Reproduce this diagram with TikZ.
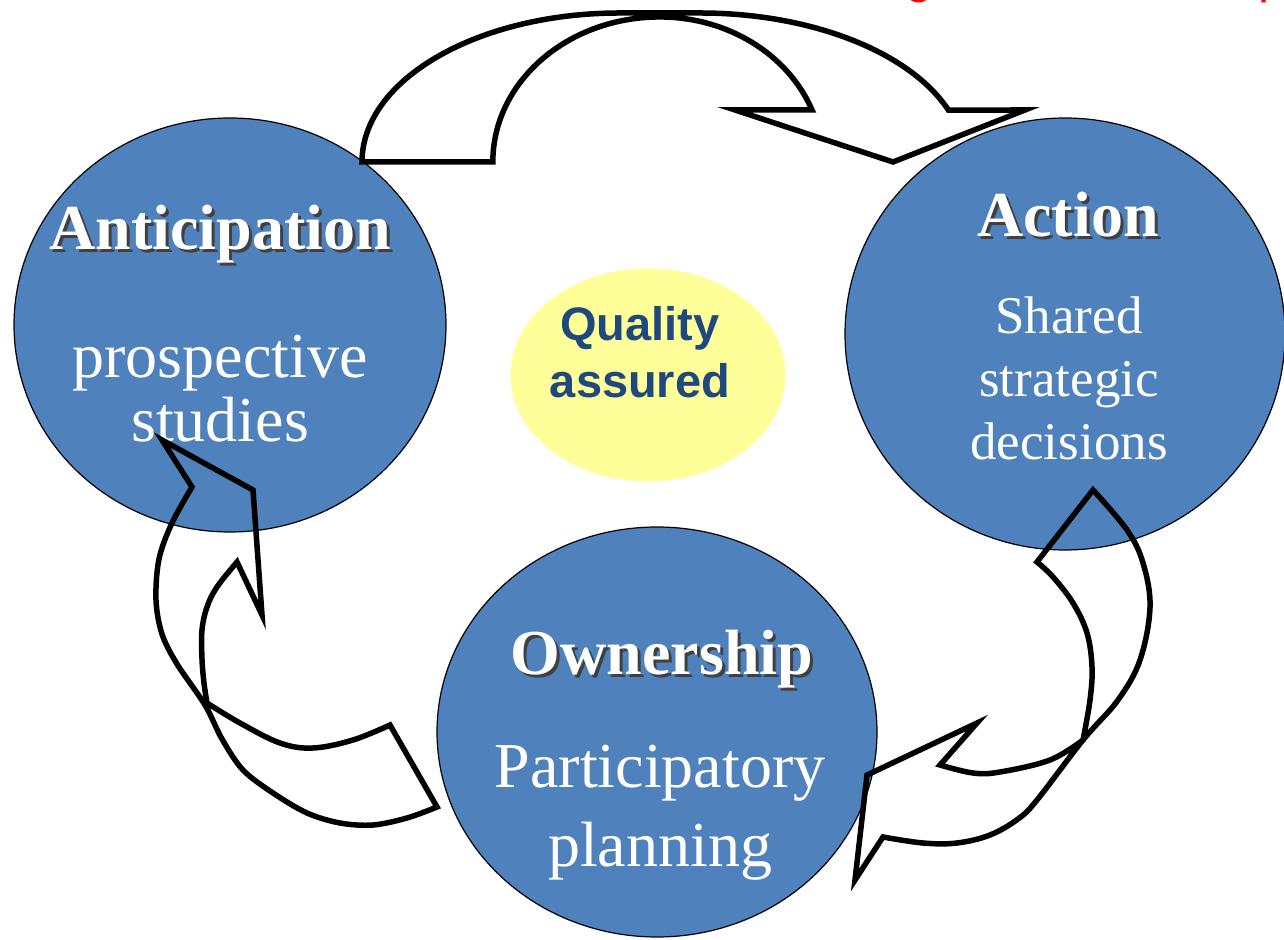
\documentclass[tikz,border=0pt]{standalone}
\usepackage{fontspec}
\setmainfont{Liberation Serif}
\newfontfamily\qualityfont{Liberation Sans}
\usetikzlibrary{shapes.geometric, positioning}

\definecolor{phaseblue}{RGB}{79,129,189}
\definecolor{qualityfill}{RGB}{255,255,153}
\definecolor{qualitytext}{RGB}{31,73,125}

% white heading with a dark drop shadow behind it
\newcommand{\shadowtext}[1]{\makebox[0pt][l]{\hspace{3pt}\raisebox{-3pt}{\color{black!75}#1}}#1}

\begin{document}
\begin{tikzpicture}[
    x=1pt, y=1pt,
    phase/.style={draw, ellipse, fill=phaseblue, line width=1.2pt, inner sep=0pt},
    title/.style={text=white, inner sep=0pt, anchor=base, font=\fontsize{64}{64}\selectfont\bfseries},
    body/.style={text=white, inner sep=0pt, anchor=base, align=center},
    bent/.style={draw, line width=5.5pt, line join=miter}
]
\useasboundingbox (0,0) rectangle (1284,939);

% the three phases and the centre
\node[phase, minimum width=432pt, minimum height=414pt] (Antic) at (230,614) {};
\node[phase, minimum width=440pt, minimum height=432pt] (Action) at (1065,605) {};
\node[phase, minimum width=440pt, minimum height=410pt] (Owner) at (657,207) {};
\node[ellipse, fill=qualityfill, minimum width=275pt, minimum height=213pt] (Quality) at (648,564) {};

% (body nodes sit on the baseline of their last line)
\node[title] (AnticTitle) at (220,689) {\shadowtext{Anticipation}};
\node[body, font=\fontsize{64}{64}\selectfont] (AnticText) at (220,497) {prospective\\studies};

\node[title] (ActionTitle) at (1068,702) {\shadowtext{Action}};
\node[body, font=\fontsize{53}{63}\selectfont] (ActionText) at (1069,479) {Shared\\strategic\\decisions};

\node[title] (OwnerTitle) at (662,264) {\shadowtext{Ownership}};
\node[body, font=\fontsize{64}{79}\selectfont] (OwnerText) at (660,72) {Participatory\\planning};

\node[body, text=qualitytext, font=\qualityfont\fontsize{47}{57}\selectfont\bfseries] (QualityText) at (640,541) {Quality\\assured};

% heading above, mostly off the page
\node[text=red, inner sep=0pt, anchor=base west, font=\qualityfont\fontsize{50}{50}\selectfont] (headG) at (905,946) {g};
\node[text=red, inner sep=0pt, anchor=base west, font=\qualityfont\fontsize{50}{50}\selectfont] (headP) at (1258,946) {p};

% curved block arrows
\draw[bent] (362,777) arc[start angle=180, end angle=90, x radius=258, y radius=149]
    -- (700,926) arc[start angle=90, end angle=20.4, x radius=265, y radius=149]
    -- (1025,829) -- (893,777) -- (735,829) -- (812,829)
    arc[start angle=21, end angle=90, x radius=163, y radius=145]
    arc[start angle=90, end angle=180, x radius=167, y radius=145] -- cycle;

\draw[bent] (1093,449) -- (1037,377)
    -- plot[smooth, tension=0.6] coordinates {(1037,377) (1053,362) (1073,336) (1087,306) (1092,272) (1090,239) (1083,199)}
    -- plot[smooth, tension=0.6] coordinates {(1083,199) (1050,179) (1000,167) (973,166) (940,174)}
    -- (977,216) -- (867,164) -- (855,59) -- (883,102)
    -- plot[smooth, tension=0.6] coordinates {(883,102) (923,96) (957,96) (990,104) (1018,120) (1037,139) (1083,199) (1118,239) (1140,279) (1150,332) (1143,376) (1127,409) (1093,449)}
    -- cycle;

\draw[bent] (437,132) -- (390,214)
    -- plot[smooth, tension=0.6] coordinates {(390,214) (353,199) (313,191) (280,196) (240,216) (207,236)}
    -- plot[smooth, tension=0.6] coordinates {(207,236) (204,256) (202,280) (202,309) (207,332) (217,352) (237,377)}
    -- (262,324) -- (253,449) -- (162,499) -- (192,452)
    -- plot[smooth, tension=0.55] coordinates {(192,452) (172,416) (159,380) (156,339) (162,305) (177,275) (205,234) (222,200) (243,169) (273,146) (307,126) (340,116) (373,114) (407,121) (437,132)}
    -- cycle;
\end{tikzpicture}
\end{document}
